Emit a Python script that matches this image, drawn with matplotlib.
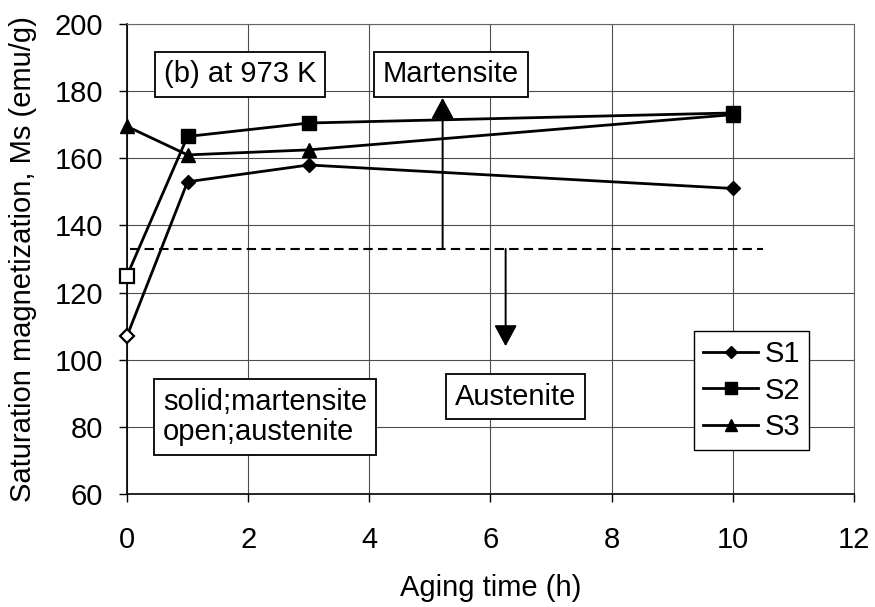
import matplotlib
matplotlib.use("Agg")
import matplotlib.pyplot as plt
from matplotlib.lines import Line2D

plt.rcParams["font.family"] = ["Liberation Sans", "DejaVu Sans"]

# Aging time (h) and saturation magnetization Ms (emu/g) for each sample
aging_time = [0, 1, 3, 10]
ms_s1 = [107, 153, 158, 151]
ms_s2 = [125, 166.5, 170.5, 173.5]
ms_s3 = [169.5, 161, 162.5, 173]

# True = martensite (solid marker), False = austenite (open marker)
mart_s1 = [False, True, True, True]
mart_s2 = [False, True, True, True]
mart_s3 = [True, True, True, True]

# Ms level separating martensite from austenite
ms_boundary = 133
boundary_span = (0.05, 10.5)

# arrow positions (x, y tip)
mart_arrow = (5.21, 178)
aust_arrow = (6.25, 104)

series = [
    ("S1", ms_s1, mart_s1, "D", 7),
    ("S2", ms_s2, mart_s2, "s", 9.5),
    ("S3", ms_s3, mart_s3, "^", 9.5),
]

fig = plt.figure(figsize=(8.75, 6.07), dpi=100)
ax = fig.add_axes([0.1451, 0.1862, 0.8309, 0.7743])

handles = []
for name, ms, mart, mk, size in series:
    ax.plot(aging_time, ms, color="black", lw=2.0, zorder=3, clip_on=False)
    for t, m, solid in zip(aging_time, ms, mart):
        ax.plot(t, m, marker=mk, markersize=size, linestyle="none",
                mfc="black" if solid else "white", mec="black",
                mew=1.0 if solid else 1.6, zorder=4, clip_on=False)
    handles.append(Line2D([], [], color="black", lw=2.0, marker=mk,
                          markersize=size * 0.85, mfc="black", mec="black"))

# martensite / austenite boundary
ax.hlines(ms_boundary, boundary_span[0], boundary_span[1], colors="black",
          linestyles=(0, (4.5, 2.5)), lw=1.5, zorder=2)

arrow_style = "-|>,head_length=0.65,head_width=0.35"
ax.annotate("", xy=mart_arrow, xytext=(mart_arrow[0], ms_boundary),
            arrowprops=dict(arrowstyle=arrow_style, color="black", lw=1.4,
                            shrinkA=0, shrinkB=0, mutation_scale=20), zorder=3)
ax.annotate("", xy=aust_arrow, xytext=(aust_arrow[0], ms_boundary),
            arrowprops=dict(arrowstyle=arrow_style, color="black", lw=1.4,
                            shrinkA=0, shrinkB=0, mutation_scale=20), zorder=3)

box = dict(boxstyle="square,pad=0.3", fc="white", ec="black", lw=1.3)
ax.text(1.865, 185, "(b) at 973 K", fontsize=21, ha="center", va="center",
        bbox=box, zorder=5)
ax.text(5.35, 185, "Martensite", fontsize=21, ha="center", va="center",
        bbox=box, zorder=5)
ax.text(2.28, 83, "solid;martensite\nopen;austenite", fontsize=21,
        ha="center", va="center", multialignment="left", linespacing=1.1,
        bbox=box, zorder=5)
ax.text(6.42, 89, "Austenite", fontsize=21, ha="center", va="center",
        bbox=box, zorder=5)

leg = ax.legend(handles, [s[0] for s in series], loc="center",
                bbox_to_anchor=(0.859, 0.22), fontsize=21, handlelength=1.9,
                handletextpad=0.2, borderpad=0.3, labelspacing=0.3,
                borderaxespad=0, fancybox=False, framealpha=1,
                edgecolor="black")
leg.get_frame().set_linewidth(1.0)
leg.set_zorder(6)

ax.set_xlim(0, 12)
ax.set_ylim(60, 200)
ax.set_xticks(range(0, 13, 2))
ax.set_yticks(range(60, 201, 20))
ax.grid(True, color="0.3", lw=0.8)
ax.set_axisbelow(True)
ax.tick_params(direction="out", length=6, width=1, labelsize=21)
ax.tick_params(axis="x", pad=17)
ax.tick_params(axis="y", pad=11)
for side in ["top", "right"]:
    ax.spines[side].set_color("0.4")
    ax.spines[side].set_linewidth(0.8)
for side in ["left", "bottom"]:
    ax.spines[side].set_linewidth(1.2)

ax.set_xlabel("Aging time (h)", fontsize=21)
ax.set_ylabel("Saturation magnetization, Ms (emu/g)", fontsize=21)
ax.xaxis.set_label_coords(0.5, -0.17)
ax.yaxis.set_label_coords(-0.124, 0.5)

fig.savefig("out.png", dpi=100)
